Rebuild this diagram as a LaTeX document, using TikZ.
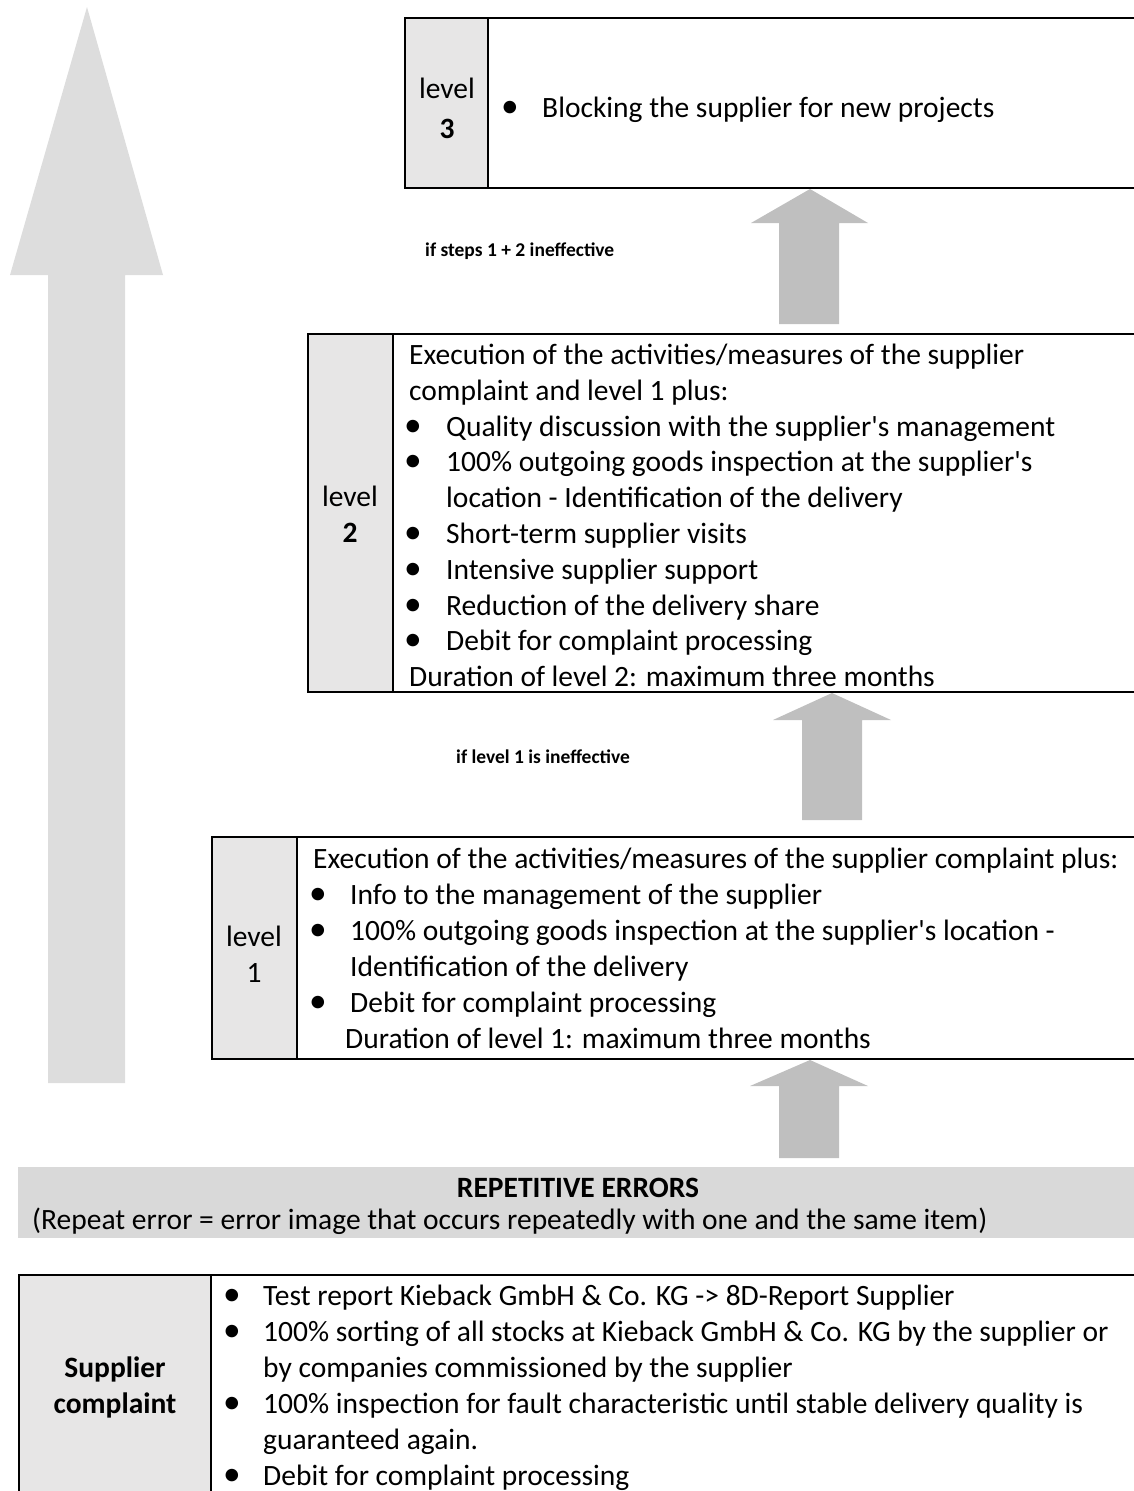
\documentclass[tikz,border=0pt]{standalone}
\usepackage{fontspec}
\setmainfont{Carlito}
\definecolor{cellgray}{HTML}{E7E6E6}
\definecolor{arrowgray}{HTML}{BFBFBF}
\definecolor{biggray}{HTML}{DDDDDD}
\definecolor{bandgray}{HTML}{D9D9D9}
\newcommand{\apo}{\textquotesingle}
\newcommand{\bigbul}{\scalebox{1.2}{\textbullet}}
\tikzset{
 tx/.style={anchor=base west, inner sep=0pt, font=\fontsize{29.5}{36}\selectfont},
 tc/.style={anchor=base, inner sep=0pt, font=\fontsize{29.5}{36}\selectfont},
 bul/.style={anchor=base, inner sep=0pt, font=\fontsize{29.5}{36}\selectfont},
 lab/.style={anchor=base west, inner sep=0pt, font=\bfseries\fontsize{19.5}{22}\selectfont},
 boxline/.style={draw=black, line width=2pt},
}
\begin{document}
\begin{tikzpicture}[x=1pt,y=-1pt]
\useasboundingbox (0,0) rectangle (1134,1491);
\clip (0,0) rectangle (1134,1491);
% big arrow
\fill[biggray] (87,7) -- (163,275) -- (125,275) -- (125,1083) -- (48,1083) -- (48,275) -- (10,275) -- cycle;

% level 3
\fill[cellgray] (405,18) rectangle (488,188);
\draw[boxline] (1140,18) -- (405,18) -- (405,188) -- (1140,188);
\draw[boxline] (488,18) -- (488,188);
\node[tc] (l3a) at (447,98) {level};
\node[tc] (l3b) at (447,138) {\bfseries 3};
\node[bul] (l3bul) at (510,117) {\bigbul};
\node[tx] (l3t) at (542,117) {Blocking the supplier for new projects};

% arrow 3
\fill[arrowgray] (810,189) -- (868,223) -- (839,223) -- (839,324) -- (779,324) -- (779,223) -- (751,223) -- cycle;
\node[lab] (lab3) at (425,256) {if steps 1 + 2 ineffective};

% level 2
\fill[cellgray] (308,334) rectangle (393,692);
\draw[boxline] (1140,334) -- (308,334) -- (308,692) -- (1140,692);
\draw[boxline] (393,334) -- (393,692);
\node[tc] (l2a) at (350,506) {level};
\node[tc] (l2b) at (350,542) {\bfseries 2};
\node[tx] (l2t1) at (409,364) {Execution of the activities/measures of the supplier};
\node[tx] (l2t2) at (409,400) {complaint and level 1 plus:};
\node[bul] at (413,436) {\bigbul};
\node[tx] (l2t3) at (446,436) {Quality discussion with the supplier\apo s management};
\node[bul] at (413,471) {\bigbul};
\node[tx] (l2t4) at (446,471) {100\% outgoing goods inspection at the supplier\apo s};
\node[tx] (l2t5) at (446,507) {location - Identification of the delivery};
\node[bul] at (413,543) {\bigbul};
\node[tx] (l2t6) at (446,543) {Short-term supplier visits};
\node[bul] at (413,579) {\bigbul};
\node[tx] (l2t7) at (446,579) {Intensive supplier support};
\node[bul] at (413,615) {\bigbul};
\node[tx] (l2t8) at (446,615) {Reduction of the delivery share};
\node[bul] at (413,650) {\bigbul};
\node[tx] (l2t9) at (446,650) {Debit for complaint processing};
\node[tx] (l2t10) at (409,686) {Duration of level 2: maximum three months};

% arrow 2
\fill[arrowgray] (832,693) -- (891,720) -- (862,720) -- (862,820) -- (802,820) -- (802,720) -- (773,720) -- cycle;
\node[lab] (lab2) at (456,763) {if level 1 is ineffective};

% level 1
\fill[cellgray] (212,837) rectangle (297,1059);
\draw[boxline] (1140,837) -- (212,837) -- (212,1059) -- (1140,1059);
\draw[boxline] (297,837) -- (297,1059);
\node[tc] (l1a) at (254,946) {level};
\node[tc] (l1b) at (254,982) {1};
\node[tx] (l1t1) at (313,868) {Execution of the activities/measures of the supplier complaint plus:};
\node[bul] at (318,904) {\bigbul};
\node[tx] (l1t2) at (350,904) {Info to the management of the supplier};
\node[bul] at (318,940) {\bigbul};
\node[tx] (l1t3) at (350,940) {100\% outgoing goods inspection at the supplier\apo s location -};
\node[tx] (l1t4) at (350,976) {Identification of the delivery};
\node[bul] at (318,1012) {\bigbul};
\node[tx] (l1t5) at (350,1012) {Debit for complaint processing};
\node[tx] (l1t6) at (345,1048) {Duration of level 1: maximum three months};

% arrow 1
\fill[arrowgray] (810,1060) -- (868,1086) -- (839,1086) -- (839,1158) -- (779,1158) -- (779,1086) -- (750,1086) -- cycle;

% band
\fill[bandgray] (18,1167) rectangle (1134,1238);
\node[tc] (rep) at (578,1197) {\bfseries REPETITIVE ERRORS};
\node[tx] (repd) at (32,1229) {(Repeat error = error image that occurs repeatedly with one and the same item)};

% supplier complaint
\fill[cellgray] (19,1275) rectangle (211,1510);
\draw[boxline] (1140,1275) -- (19,1275) -- (19,1510);
\draw[boxline] (211,1275) -- (211,1510);
\node[tc] (sc1) at (115,1377) {\bfseries Supplier};
\node[tc] (sc2) at (115,1413) {\bfseries complaint};
\node[bul] at (232,1305) {\bigbul};
\node[tx] (s1) at (263,1305) {Test report Kieback GmbH \& Co. KG -> 8D-Report Supplier};
\node[bul] at (232,1341) {\bigbul};
\node[tx] (s2) at (263,1341) {100\% sorting of all stocks at Kieback GmbH \& Co. KG by the supplier or};
\node[tx] (s3) at (263,1377) {by companies commissioned by the supplier};
\node[bul] at (232,1413) {\bigbul};
\node[tx] (s4) at (263,1413) {100\% inspection for fault characteristic until stable delivery quality is};
\node[tx] (s5) at (263,1449) {guaranteed again.};
\node[bul] at (232,1485) {\bigbul};
\node[tx] (s6) at (263,1485) {Debit for complaint processing};
\end{tikzpicture}
\end{document}
